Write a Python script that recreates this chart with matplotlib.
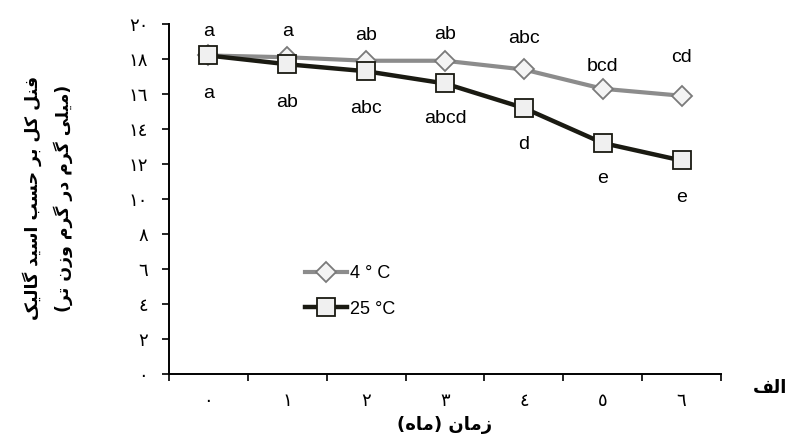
import matplotlib
matplotlib.use("Agg")
import matplotlib.pyplot as plt
from matplotlib.lines import Line2D

# data
months = ["٠", "١", "٢", "٣", "٤", "٥", "٦"]
phenol_4c = [18.2, 18.1, 17.9, 17.9, 17.4, 16.3, 15.9]
phenol_25c = [18.2, 17.7, 17.3, 16.6, 15.2, 13.2, 12.2]
letters_4c = ["a", "a", "ab", "ab", "abc", "bcd", "cd"]
letters_25c = ["a", "ab", "abc", "abcd", "d", "e", "e"]
yticks = [0, 2, 4, 6, 8, 10, 12, 14, 16, 18, 20]
ytick_labels = ["٠", "٢", "٤", "٦", "٨", "١٠", "١٢", "١٤", "١٦", "١٨", "٢٠"]

# label offsets in pixels (layout only)
up_off = [24, 26, 25, 26, 31, 22, 38]
down_off = [-38, -38, -37, -35, -37, -36, -37]

# matplotlib does no arabic shaping, so do it by hand
FORMS = {
    "ا": ("\uFE8D", "\uFE8E", None, None),
    "ب": ("\uFE8F", "\uFE90", "\uFE91", "\uFE92"),
    "ت": ("\uFE95", "\uFE96", "\uFE97", "\uFE98"),
    "ح": ("\uFEA1", "\uFEA2", "\uFEA3", "\uFEA4"),
    "د": ("\uFEA9", "\uFEAA", None, None),
    "ر": ("\uFEAD", "\uFEAE", None, None),
    "ز": ("\uFEAF", "\uFEB0", None, None),
    "س": ("\uFEB1", "\uFEB2", "\uFEB3", "\uFEB4"),
    "ف": ("\uFED1", "\uFED2", "\uFED3", "\uFED4"),
    "ل": ("\uFEDD", "\uFEDE", "\uFEDF", "\uFEE0"),
    "م": ("\uFEE1", "\uFEE2", "\uFEE3", "\uFEE4"),
    "ن": ("\uFEE5", "\uFEE6", "\uFEE7", "\uFEE8"),
    "ه": ("\uFEE9", "\uFEEA", "\uFEEB", "\uFEEC"),
    "و": ("\uFEED", "\uFEEE", None, None),
    "ک": ("\uFB8E", "\uFB8F", "\uFB90", "\uFB91"),
    "گ": ("\uFB92", "\uFB93", "\uFB94", "\uFB95"),
    "ی": ("\uFBFC", "\uFBFD", "\uFBFE", "\uFBFF"),
}


def fa(text):
    out = []
    for i, ch in enumerate(text):
        if ch not in FORMS:
            out.append(ch)
            continue
        iso, fin, ini, med = FORMS[ch]
        prev_j = i > 0 and text[i - 1] in FORMS and FORMS[text[i - 1]][2] is not None
        next_j = i < len(text) - 1 and text[i + 1] in FORMS and ini is not None
        if prev_j and next_j:
            out.append(med)
        elif prev_j:
            out.append(fin)
        elif next_j:
            out.append(ini)
        else:
            out.append(iso)
    swap = {"(": ")", ")": "("}
    return "".join(swap.get(c, c) for c in reversed(out))


plt.rcParams["font.family"] = ["Liberation Sans", "DejaVu Sans"]

fig = plt.figure(figsize=(7.91, 4.47), dpi=100)
ax = fig.add_axes([169 / 791, 1 - 374 / 447, 552 / 791, 350 / 447])

x = list(range(len(months)))
ax.plot(x, phenol_4c, color="#8c8c8c", lw=3, marker="D", ms=10,
        mfc="#f4f4f4", mec="#7a7a7a", mew=1.3, zorder=3)
ax.plot(x, phenol_25c, color="#1a1a12", lw=3.2, marker="s", ms=13,
        mfc="#f0f0f0", mec="#1a1a12", mew=1.3, zorder=4)

for i in x:
    ax.annotate(letters_4c[i], (x[i], phenol_4c[i]), xytext=(0, up_off[i] * 0.72),
                textcoords="offset points", ha="center", va="center", fontsize=14)
    ax.annotate(letters_25c[i], (x[i], phenol_25c[i]), xytext=(0, down_off[i] * 0.72),
                textcoords="offset points", ha="center", va="center", fontsize=14)

ax.set_xlim(-0.5, len(months) - 0.5)
ax.set_ylim(0, 20)
ax.set_xticks([i - 0.5 for i in range(len(months) + 1)])
ax.set_xticklabels([])
ax.set_xticks(x, minor=True)
ax.set_xticklabels(months, minor=True, family="DejaVu Sans", fontsize=13)
ax.tick_params(axis="x", which="major", direction="out", length=5, width=1.2)
ax.tick_params(axis="x", which="minor", length=0, pad=13)
ax.set_yticks(yticks)
ax.set_yticklabels(ytick_labels, family="DejaVu Sans", fontsize=13)
ax.tick_params(axis="y", direction="out", length=5, width=1.2, pad=10)

for s in ["top", "right"]:
    ax.spines[s].set_visible(False)
for s in ["left", "bottom"]:
    ax.spines[s].set_linewidth(1.4)

fig.text(32 / 791, 1 - 198 / 447, fa("فنل کل بر حسب اسید گالیک"), rotation=90,
         ha="center", va="center", fontsize=12.5, fontweight="bold", family="DejaVu Sans")
fig.text(63 / 791, 1 - 198 / 447, fa("(میلی گرم در گرم وزن تر)"), rotation=90,
         ha="center", va="center", fontsize=12.5, fontweight="bold", family="DejaVu Sans")
fig.text(445 / 791, 1 - 425 / 447, fa("زمان (ماه)"), ha="center", va="center",
         fontsize=13, fontweight="bold", family="DejaVu Sans")
fig.text(770 / 791, 1 - 388 / 447, fa("الف"), ha="center", va="center",
         fontsize=13, fontweight="bold", family="DejaVu Sans")

handles = [
    Line2D([], [], color="#8c8c8c", lw=3, marker="D", ms=10, mfc="#f4f4f4",
           mec="#7a7a7a", mew=1.3),
    Line2D([], [], color="#1a1a12", lw=3.2, marker="s", ms=13, mfc="#f0f0f0",
           mec="#1a1a12", mew=1.3),
]
ax.legend(handles, ["4 ° C", "25 °C"], loc="upper left", bbox_to_anchor=(0.247, 0.31),
          frameon=False, fontsize=13, handlelength=2.3, handletextpad=0.2,
          labelspacing=1.0, borderpad=0, borderaxespad=0)

fig.savefig("out.png", dpi=100)
